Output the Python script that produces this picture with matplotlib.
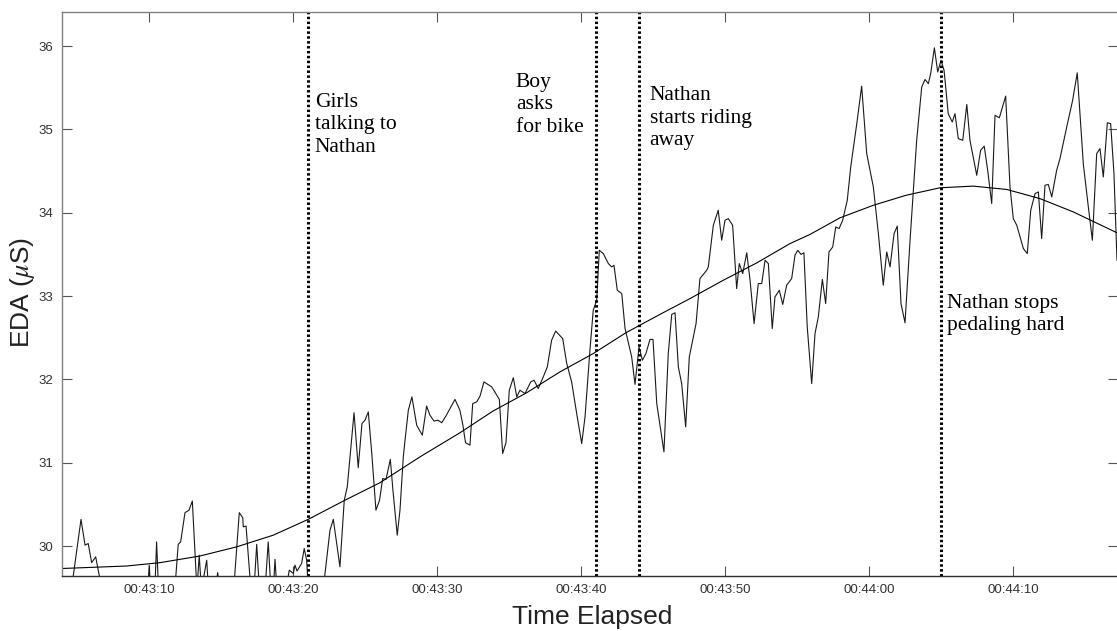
import matplotlib.pyplot as plt
from matplotlib.ticker import FuncFormatter, FixedLocator

plt.rcParams['mathtext.fontset'] = 'stix'

# seconds after 00:43:00
eda_t = [4.15, 4.49, 5.26, 5.54, 5.76, 6.00, 6.28, 6.72, 7.97, 9.84, 10.00, 10.12, 10.36, 10.51, 10.67,
         11.72, 12.01, 12.18, 12.48, 12.76, 12.99, 13.31, 13.47, 13.62, 13.99, 14.11, 14.56, 14.75, 14.91,
         15.81, 16.25, 16.49, 16.53, 16.72, 17.06, 17.27, 17.46, 17.65, 18.04, 18.26, 18.45, 18.62, 18.73,
         18.87, 19.49, 19.72, 20.00, 20.12, 20.26, 20.58, 20.76, 20.93, 21.09, 21.99, 22.55, 22.78, 23.24,
         23.54, 23.75, 24.22, 24.51, 24.77, 24.98, 25.21, 25.46, 25.74, 25.99, 26.21, 26.44, 26.74, 26.92,
         27.22, 27.41, 27.64, 27.76, 27.99, 28.24, 28.57, 28.96, 29.26, 29.49, 29.77, 30.05, 30.31, 30.60,
         31.23, 31.57, 31.78, 31.96, 32.27, 32.46, 32.74, 32.97, 33.24, 33.78, 34.31, 34.54, 34.77, 35.00,
         35.28, 35.52, 35.74, 36.09, 36.49, 36.72, 37.01, 37.36, 37.64, 37.94, 38.22, 38.71, 38.99, 39.33,
         39.68, 40.03, 40.26, 40.60, 40.83, 41.07, 41.25, 41.53, 41.88, 42.11, 42.27, 42.50, 42.81, 43.04,
         43.50, 43.73, 44.01, 44.24, 44.49, 44.77, 44.98, 45.24, 45.74, 46.04, 46.28, 46.51, 46.74, 46.97,
         47.25, 47.50, 47.97, 48.24, 48.71, 48.82, 49.17, 49.51, 49.75, 49.98, 50.21, 50.51, 50.79, 50.97,
         51.21, 51.49, 51.72, 52.00, 52.29, 52.53, 52.76, 52.99, 53.26, 53.45, 53.75, 53.99, 54.26, 54.61,
         54.84, 55.03, 55.26, 55.46, 55.69, 56.00, 56.23, 56.46, 56.74, 56.97, 57.20, 57.46, 57.67, 57.90,
         58.15, 58.47, 58.71, 59.13, 59.47, 59.82, 60.28, 60.63, 60.97, 61.21, 61.44, 61.72, 61.94, 62.20,
         62.48, 62.83, 63.29, 63.64, 63.87, 64.10, 64.26, 64.52, 64.75, 64.98, 65.19, 65.26, 65.48, 65.76,
         65.95, 66.18, 66.49, 66.77, 66.99, 67.46, 67.73, 67.98, 68.22, 68.50, 68.73, 69.03, 69.47, 69.77,
         70.00, 70.24, 70.70, 70.97, 71.21, 71.51, 71.74, 71.97, 72.20, 72.43, 72.67, 73.01, 73.24, 73.71,
         74.12, 74.44, 74.86, 75.21, 75.49, 75.79, 76.02, 76.25, 76.53, 76.76, 76.99, 77.20]
eda_v = [29.35, 29.35, 30.32, 30.01, 30.03, 29.80, 29.87, 29.47, 29.35, 29.35, 29.77, 29.35, 29.35, 30.05, 29.35,
         29.35, 30.02, 30.05, 30.40, 30.43, 30.54, 29.47, 29.89, 29.47, 29.83, 29.47, 29.47, 29.68, 29.47,
         29.35, 30.40, 30.34, 30.23, 30.24, 29.47, 29.47, 30.02, 29.47, 29.47, 30.05, 29.47, 29.47, 29.84,
         29.47, 29.47, 29.71, 29.67, 29.77, 29.70, 29.79, 29.97, 29.83, 29.35, 29.35, 30.19, 30.32, 29.75,
         30.55, 30.71, 31.60, 30.94, 31.47, 31.51, 31.61, 31.09, 30.43, 30.55, 30.81, 30.80, 31.04, 30.67,
         30.13, 30.43, 31.07, 31.27, 31.63, 31.79, 31.45, 31.33, 31.68, 31.57, 31.50, 31.51, 31.48, 31.56,
         31.76, 31.63, 31.45, 31.24, 31.21, 31.71, 31.73, 31.80, 31.97, 31.91, 31.76, 31.11, 31.24, 31.87,
         32.02, 31.79, 31.87, 31.83, 31.97, 31.99, 31.89, 32.03, 32.15, 32.47, 32.58, 32.49, 32.19, 31.97,
         31.59, 31.23, 31.55, 32.35, 32.83, 32.95, 33.55, 33.51, 33.39, 33.35, 33.37, 33.07, 33.03, 32.61,
         32.27, 31.94, 32.39, 32.23, 32.31, 32.48, 32.48, 31.71, 31.13, 32.31, 32.78, 32.80, 32.15, 31.95,
         31.43, 32.27, 32.67, 33.21, 33.31, 33.35, 33.85, 34.03, 33.67, 33.91, 33.93, 33.85, 33.09, 33.39,
         33.27, 33.52, 33.19, 32.67, 33.15, 33.15, 33.43, 33.39, 32.61, 32.99, 33.07, 32.90, 33.13, 33.21,
         33.49, 33.55, 33.50, 33.52, 32.63, 31.95, 32.55, 32.75, 33.20, 32.91, 33.53, 33.59, 33.83, 33.81,
         33.91, 34.15, 34.55, 35.07, 35.52, 34.71, 34.31, 33.75, 33.13, 33.53, 33.35, 33.75, 33.84, 32.91,
         32.68, 33.67, 34.87, 35.51, 35.60, 35.55, 35.67, 35.98, 35.69, 35.83, 35.71, 35.59, 35.19, 35.09,
         35.19, 34.89, 34.87, 35.30, 34.87, 34.45, 34.75, 34.80, 34.51, 34.11, 35.17, 35.14, 35.40, 34.31,
         33.93, 33.85, 33.57, 33.51, 34.03, 34.23, 34.25, 33.69, 34.33, 34.34, 34.19, 34.51, 34.65, 35.03,
         35.35, 35.68, 34.59, 34.07, 33.67, 34.71, 34.77, 34.43, 35.08, 35.07, 34.47, 33.43]

# trend curve
fit_t = [3.94, 8.43, 10.74, 13.52, 16.07, 18.61, 21.04, 23.59, 26.02, 28.80, 31.58, 33.87, 36.21, 38.52,
         40.83, 43.10, 45.46, 47.55, 49.86, 52.20, 54.49, 55.88, 57.97, 60.28, 62.55, 64.91, 67.22, 69.54,
         71.85, 74.17, 77.20]
fit_v = [29.73, 29.76, 29.80, 29.88, 29.99, 30.13, 30.32, 30.55, 30.76, 31.07, 31.36, 31.62, 31.84, 32.09,
         32.31, 32.56, 32.78, 32.97, 33.19, 33.40, 33.63, 33.74, 33.94, 34.09, 34.21, 34.30, 34.32, 34.28,
         34.17, 34.01, 33.76]

event_t = [21.0, 41.0, 44.0, 65.0]
event_labels = ['Girls\ntalking to\nNathan', 'Boy\nasks\nfor bike',
                'Nathan\nstarts riding\naway', 'Nathan stops\npedaling hard']
xtick_t = [10, 20, 30, 40, 50, 60, 70]
ytick_v = [30, 31, 32, 33, 34, 35, 36]

fig = plt.figure(figsize=(11.17, 6.31), dpi=100)
ax = fig.add_axes([62 / 1117, 55 / 631, 1056 / 1117, 564 / 631])

ax.plot(eda_t, eda_v, color='#1a1a1a', lw=0.8)
ax.plot(fit_t, fit_v, color='black', lw=0.8)
for t in event_t:
    ax.axvline(t, color='black', lw=2.2, ls=(0, (0.8, 0.8)))

# annotation text, left edge just right of each dotted line
text_pos = [(21.5, 35.44), (35.45, 35.68), (44.75, 35.52), (65.4, 33.03)]
for (tx, ty), label in zip(text_pos, event_labels):
    ax.text(tx, ty, label, family='Liberation Serif', fontsize=15.5, va='top', ha='left',
            linespacing=1.25)

ax.set_xlim(3.94, 77.27)
ax.set_ylim(29.64, 36.41)

ax.xaxis.set_major_locator(FixedLocator(xtick_t))
ax.yaxis.set_major_locator(FixedLocator(ytick_v))


def fmt_time(t, pos):
    total = 43 * 60 + int(round(t))
    return '00:%02d:%02d' % (total // 60, total % 60)


ax.xaxis.set_major_formatter(FuncFormatter(fmt_time))
ax.tick_params(direction='in', length=7, width=0.8, color='#555555', top=True, right=True,
               labelsize=9.5, labelcolor='#333333', pad=6)
for lab in ax.get_xticklabels() + ax.get_yticklabels():
    lab.set_family('Liberation Sans')

for side in ['left', 'top', 'right']:
    ax.spines[side].set_color('#808080')
ax.spines['bottom'].set_color('#303030')
for s in ax.spines.values():
    s.set_linewidth(1.0)

ax.set_xlabel('Time Elapsed', family='Liberation Sans', fontsize=19, color='#222222')
ax.set_ylabel(r'EDA ($\mu$S)', family='Liberation Sans', fontsize=19, color='#222222')
ax.xaxis.set_label_coords((592 - 62) / 1056, -(605 - 576) / 564)
ax.yaxis.set_label_coords(-(62 - 37) / 1056, (576 - 292) / 564)

plt.savefig('out.png', dpi=100)
